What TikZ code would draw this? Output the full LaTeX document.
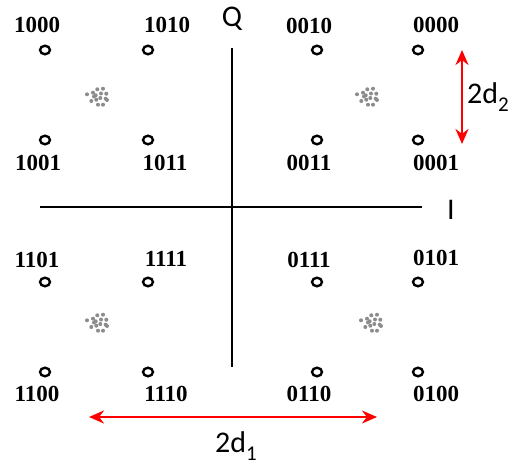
\documentclass[tikz,border=0pt]{standalone}
\usepackage{fontspec}
\setmainfont{Liberation Serif}
\newfontfamily\axfont{Carlito}
\usetikzlibrary{arrows.meta,shapes.geometric}
\tikzset{
  pt/.style={draw=black,line width=2.4pt,ellipse,minimum width=10pt,minimum height=8.5pt,inner sep=0pt},
  lbl/.style={font=\fontsize{23}{23}\selectfont\bfseries,inner sep=0pt},
  axis/.style={line width=2.3pt},
  ax/.style={font=\axfont\fontsize{30}{30}\selectfont,inner sep=0pt},
  meas/.style={red,line width=2.4pt,{Stealth[length=15pt,width=13pt]}-{Stealth[length=15pt,width=13pt]}},
  dot/.style={fill=black!45,circle,inner sep=0pt,minimum size=4pt}
}
\newcommand{\subsc}[1]{\raisebox{-0.28em}{\fontsize{21}{21}\selectfont #1}}
\newcommand{\cluster}[2]{%
  \foreach \dx/\dy in {-10/-2.7,-4/-4.3,0.3/-7.7,6/-8.3,9.3/-3.3,-1.3/-1.7,3.3/1,8.7/1.7,-5.7/4,-0.7/2.7,1/7.7,6/7.7,-3/-0.5,4/-3.5,10/3}{
    \node[dot] at (#1+\dx,#2+\dy) {};}}
\begin{document}
\begin{tikzpicture}[x=1pt,y=-1pt]
\useasboundingbox (0,0) rectangle (513,470);
% axes
\coordinate (qt) at (232,48); \coordinate (qb) at (232,367);
\coordinate (il) at (40,207); \coordinate (ir) at (422,207);
\draw[axis] (qt) -- (qb);
\draw[axis] (il) -- (ir);
\node[ax] (Q) at (232,19) {Q};
\node[ax] (I) at (451,210) {I};
% points
\node[pt] (p1000) at (45,50) {};
\node[pt] (p1010) at (148,50) {};
\node[pt] (p0010) at (317,50) {};
\node[pt] (p0000) at (418,50) {};
\node[pt] (p1001) at (45,140) {};
\node[pt] (p1011) at (148,140) {};
\node[pt] (p0011) at (317,140) {};
\node[pt] (p0001) at (418,140) {};
\node[pt] (p1101) at (45,282) {};
\node[pt] (p1111) at (148,282) {};
\node[pt] (p0111) at (317,282) {};
\node[pt] (p0101) at (418,282) {};
\node[pt] (p1100) at (45,372) {};
\node[pt] (p1110) at (148,372) {};
\node[pt] (p0110) at (317,372) {};
\node[pt] (p0100) at (418,372) {};
% labels
\node[lbl] (l1000) at (37,25) {1000};
\node[lbl] (l1010) at (167,25) {1010};
\node[lbl] (l0010) at (309,26) {0010};
\node[lbl] (l0000) at (436,25) {0000};
\node[lbl] (l1001) at (38,163) {1001};
\node[lbl] (l1011) at (165,163) {1011};
\node[lbl] (l0011) at (309,163) {0011};
\node[lbl] (l0001) at (436,163) {0001};
\node[lbl] (l1101) at (37,260) {1101};
\node[lbl] (l1111) at (166,259) {1111};
\node[lbl] (l0111) at (309,260) {0111};
\node[lbl] (l0101) at (436,258) {0101};
\node[lbl] (l1100) at (37,394) {1100};
\node[lbl] (l1110) at (166,394) {1110};
\node[lbl] (l0110) at (309,394) {0110};
\node[lbl] (l0100) at (436,394) {0100};
% clusters
\cluster{97}{97}
\cluster{367}{97}
\cluster{97}{323}
\cluster{371}{323}
% measures
\coordinate (v1) at (462,50); \coordinate (v2) at (462,144);
\draw[meas] (v1) -- (v2);
\node[ax,anchor=west] (d2) at (467,97) {2d\subsc{2}};
\coordinate (h1) at (89,417); \coordinate (h2) at (377,417);
\draw[meas] (h1) -- (h2);
\node[ax] (d1) at (236,446) {2d\subsc{1}};
\end{tikzpicture}
\end{document}
